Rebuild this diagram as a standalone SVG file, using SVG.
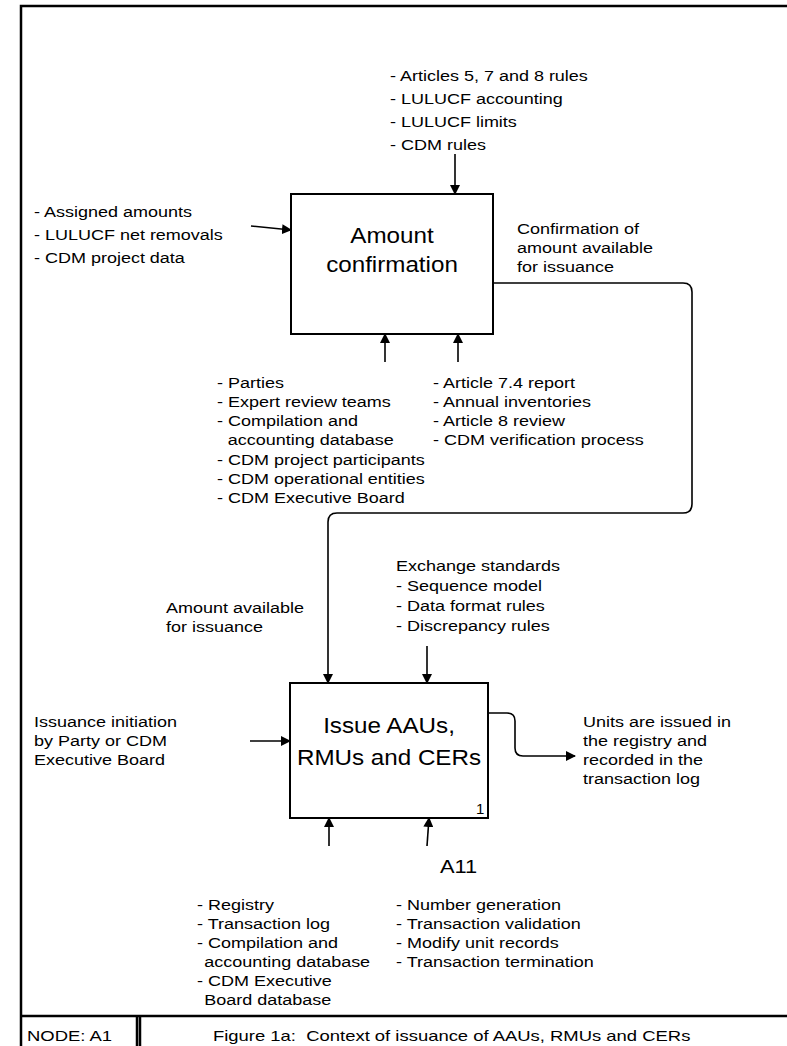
<svg xmlns="http://www.w3.org/2000/svg" width="787" height="1046" viewBox="0 0 787 1046">
  <style>
    .t { font-family: "Liberation Sans", Arial, sans-serif; font-size: 15px; fill: #000; }
    .big { font-family: "Liberation Sans", Arial, sans-serif; font-size: 22px; fill: #000; text-anchor: middle; }
    .box { fill: #fff; stroke: #000; stroke-width: 2; }
    .ln { fill: none; stroke: #000; stroke-width: 1.6; }
    .frame { fill: none; stroke: #000; stroke-width: 2.5; }
  </style>
  <defs>
    <marker id="ah" markerWidth="10" markerHeight="10" refX="9" refY="5" orient="auto" markerUnits="userSpaceOnUse">
      <path d="M0,0 L10,5 L0,10 Z" fill="#000"/>
    </marker>
  </defs>

  <rect x="0" y="0" width="787" height="1046" fill="#fff"/>

  <!-- drawing frame and title strip -->
  <g id="frame">
    <path class="frame" d="M21,1046 V6 H787"/>
    <path class="frame" d="M21,1016 H787"/>
    <path class="frame" d="M137,1016 V1046 M140,1016 V1046" stroke-width="1.5"/>
    <g transform="matrix(1.23 0 0 1 27 0)"><text class="t" x="0" y="1041">NODE: A1</text></g>
    <g transform="matrix(1.23 0 0 1 213 0)"><text class="t" x="0" y="1041" xml:space="preserve">Figure 1a:  Context of issuance of AAUs, RMUs and CERs</text></g>
  </g>

  <!-- connectors -->
  <g id="connectors">
    <line class="ln" x1="455" y1="154" x2="455" y2="194" marker-end="url(#ah)"/>
    <line class="ln" x1="251" y1="226" x2="291" y2="230" marker-end="url(#ah)"/>
    <line class="ln" x1="385" y1="362" x2="385" y2="334" marker-end="url(#ah)"/>
    <line class="ln" x1="458" y1="362" x2="458" y2="334" marker-end="url(#ah)"/>
    <path class="ln" d="M493,283 H683 Q692,283 692,292 V504 Q692,513 683,513 H337 Q328,513 328,522 V683" marker-end="url(#ah)"/>
    <line class="ln" x1="427" y1="646" x2="427" y2="683" marker-end="url(#ah)"/>
    <line class="ln" x1="250" y1="741" x2="290" y2="741" marker-end="url(#ah)"/>
    <path class="ln" d="M488,713 H507 Q515,713 515,721 V748 Q515,756 523,756 H575" marker-end="url(#ah)"/>
    <line class="ln" x1="329" y1="846" x2="329" y2="818" marker-end="url(#ah)"/>
    <line class="ln" x1="427" y1="846" x2="429" y2="818" marker-end="url(#ah)"/>
  </g>

  <!-- activity: Amount confirmation -->
  <g id="node-amount-confirmation">
    <rect class="box" x="291" y="194" width="202" height="140"/>
    <g transform="matrix(1.1 0 0 1 392 0)">
      <text class="big" x="0" y="243">Amount</text>
      <text class="big" x="0" y="272">confirmation</text>
    </g>
  </g>

  <g id="controls-a" transform="matrix(1.2 0 0 1 390 0)">
    <text class="t" x="0" y="81">- Articles 5, 7 and 8 rules</text>
    <text class="t" x="0" y="104">- LULUCF accounting</text>
    <text class="t" x="0" y="127">- LULUCF limits</text>
    <text class="t" x="0" y="150">- CDM rules</text>
  </g>

  <g id="inputs-a" transform="matrix(1.2 0 0 1 34 0)">
    <text class="t" x="0" y="217">- Assigned amounts</text>
    <text class="t" x="0" y="240">- LULUCF net removals</text>
    <text class="t" x="0" y="263">- CDM project data</text>
  </g>

  <g id="output-a" transform="matrix(1.2 0 0 1 517 0)">
    <text class="t" x="0" y="234">Confirmation of</text>
    <text class="t" x="0" y="253">amount available</text>
    <text class="t" x="0" y="272">for issuance</text>
  </g>

  <g id="mechanisms-a" transform="matrix(1.2 0 0 1 217 0)">
    <text class="t" x="0" y="388">- Parties</text>
    <text class="t" x="0" y="407">- Expert review teams</text>
    <text class="t" x="0" y="426">- Compilation and</text>
    <text class="t" x="9" y="445">accounting database</text>
    <text class="t" x="0" y="465">- CDM project participants</text>
    <text class="t" x="0" y="484">- CDM operational entities</text>
    <text class="t" x="0" y="503">- CDM Executive Board</text>
  </g>

  <g id="reports-a" transform="matrix(1.2 0 0 1 433 0)">
    <text class="t" x="0" y="388">- Article 7.4 report</text>
    <text class="t" x="0" y="407">- Annual inventories</text>
    <text class="t" x="0" y="426">- Article 8 review</text>
    <text class="t" x="0" y="445">- CDM verification process</text>
  </g>

  <!-- activity: Issue AAUs, RMUs and CERs -->
  <g id="node-issue">
    <rect class="box" x="290" y="683" width="198" height="135"/>
    <g transform="matrix(1.1 0 0 1 389 0)">
      <text class="big" x="0" y="733">Issue AAUs,</text>
      <text class="big" x="0" y="765">RMUs and CERs</text>
    </g>
    <text class="t" x="476" y="814">1</text>
  </g>

  <g id="controls-b" transform="matrix(1.2 0 0 1 396 0)">
    <text class="t" x="0" y="571">Exchange standards</text>
    <text class="t" x="0" y="591">- Sequence model</text>
    <text class="t" x="0" y="611">- Data format rules</text>
    <text class="t" x="0" y="631">- Discrepancy rules</text>
  </g>

  <g id="flow-label" transform="matrix(1.2 0 0 1 166 0)">
    <text class="t" x="0" y="613">Amount available</text>
    <text class="t" x="0" y="632">for issuance</text>
  </g>

  <g id="inputs-b" transform="matrix(1.2 0 0 1 34 0)">
    <text class="t" x="0" y="727">Issuance initiation</text>
    <text class="t" x="0" y="746">by Party or CDM</text>
    <text class="t" x="0" y="765">Executive Board</text>
  </g>

  <g id="output-b" transform="matrix(1.2 0 0 1 583 0)">
    <text class="t" x="0" y="727">Units are issued in</text>
    <text class="t" x="0" y="746">the registry and</text>
    <text class="t" x="0" y="765">recorded in the</text>
    <text class="t" x="0" y="784">transaction log</text>
  </g>

  <g id="mechanisms-b">
    <g transform="matrix(1.15 0 0 1 440 0)">
      <text class="t" x="0" y="873" style="font-size:19px">A11</text>
    </g>
    <g transform="matrix(1.2 0 0 1 197 0)">
      <text class="t" x="0" y="910">- Registry</text>
      <text class="t" x="0" y="929">- Transaction log</text>
      <text class="t" x="0" y="948">- Compilation and</text>
      <text class="t" x="6" y="967">accounting database</text>
      <text class="t" x="0" y="986">- CDM Executive</text>
      <text class="t" x="6" y="1005">Board database</text>
    </g>
    <g transform="matrix(1.2 0 0 1 396 0)">
      <text class="t" x="0" y="910">- Number generation</text>
      <text class="t" x="0" y="929">- Transaction validation</text>
      <text class="t" x="0" y="948">- Modify unit records</text>
      <text class="t" x="0" y="967">- Transaction termination</text>
    </g>
  </g>
</svg>
